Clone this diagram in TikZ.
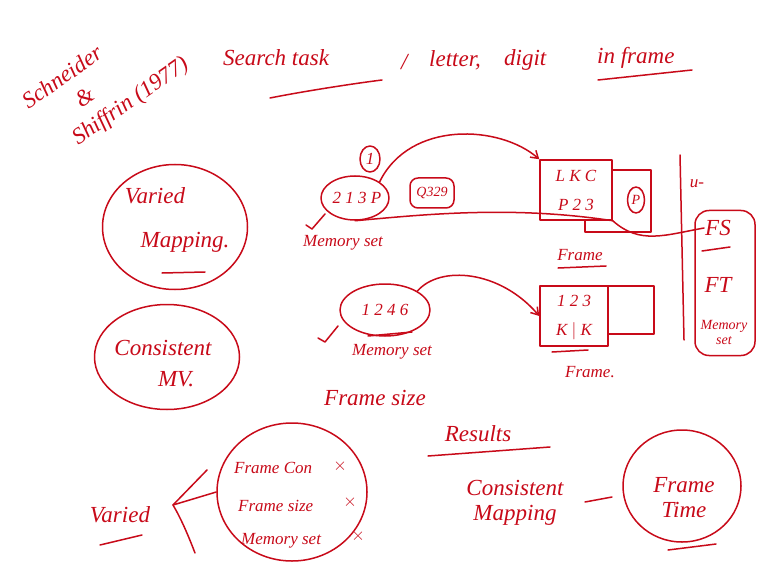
\documentclass[tikz,border=0pt]{standalone}
\usepackage{fontspec}
\setmainfont{Liberation Serif}
\usetikzlibrary{arrows.meta,shapes.geometric}
\definecolor{ink}{RGB}{200,10,25}
\tikzset{
  pen/.style={draw=ink,line width=1.5pt,line cap=round,line join=round},
  hand/.style={text=ink,font=\itshape\fontsize{23}{25}\selectfont,inner sep=1pt},
  small/.style={text=ink,font=\itshape\fontsize{17}{19}\selectfont,inner sep=1pt},
  tiny/.style={text=ink,font=\itshape\fontsize{14}{15}\selectfont,inner sep=1pt},
  loop/.style={pen,ellipse,inner sep=0pt},
  tip/.style={-{Straight Barb[length=7pt,width=9pt]}}
}
\begin{document}
\begin{tikzpicture}[x=1pt,y=-1pt]
\useasboundingbox[fill=white] (0,0) rectangle (767,577);

% authors, written on a slant
\node[hand,rotate=35,align=left,font=\itshape\fontsize{23}{29}\selectfont] (auth) at (106,84)
  {Schneider\\\hspace*{44pt}\&\\\hspace*{20pt}Shiffrin (1977)};

% title line
\node[hand,anchor=west] (title) at (222,58) {Search task};
\node[hand,anchor=west] (slash) at (400,62) {/};
\node[hand,anchor=west] (ltr) at (428,60) {letter,};
\node[hand,anchor=west] (dig) at (503,60) {digit};
\node[hand,anchor=west] (inf) at (596,58) {in frame};
\coordinate (u1a) at (270,98); \coordinate (u1b) at (382,80);
\draw[pen] (u1a) .. controls (300,92) and (350,84) .. (u1b);
\coordinate (u2a) at (598,80); \coordinate (u2b) at (692,70);
\draw[pen] (u2a) -- (u2b);

% varied / consistent mapping
\node[loop,minimum width=145pt,minimum height=125pt] (vm) at (175,227) {};
\node[hand] (vmt1) at (155,196) {Varied};
\node[hand] (vmt2) at (185,242) {Mapping.};
\coordinate (vmu1) at (162,273); \coordinate (vmu2) at (205,272);
\draw[pen] (vmu1) -- (vmu2);

\node[loop,minimum width=145pt,minimum height=105pt] (cm) at (167,357) {};
\node[hand] (cmt1) at (163,348) {Consistent};
\node[hand] (cmt2) at (176,379) {MV.};

% first memory set and its frame
\node[loop,minimum width=68pt,minimum height=44pt] (ms1) at (355,198) {};
\node[small] (ms1t) at (357,198) {2 1 3 P};
\node[loop,minimum width=20pt,minimum height=26pt] (one) at (370,159) {};
\node[small] (onet) at (370,159) {1};
\node[pen,rounded corners=8pt,minimum width=44pt,minimum height=30pt] (q) at (432,193) {};
\node[tiny] (qt) at (432,193) {Q329};
\node[small] (ms1l) at (343,243) {Memory set};
\coordinate (sq1) at (306,225);
\draw[pen] (sq1) -- (312,229) -- (325,214);

\node[pen,minimum width=66pt,minimum height=62pt] (fr1b) at (618,201) {};
\node[pen,fill=white,minimum width=72pt,minimum height=60pt] (fr1) at (576,190) {};
\node[small] (fr1r1) at (576,176) {L K C};
\node[small] (fr1r2) at (576,205) {P 2 3};
\node[loop,minimum width=17pt,minimum height=26pt] (pc) at (636,200) {};
\node[tiny] (pct) at (636,200) {P};
\node[small] (fr1l) at (580,255) {Frame};
\coordinate (fu1) at (558,268); \coordinate (fu2) at (606,266);
\draw[pen] (fu1) -- (fu2);

\draw[pen,tip] (ms1.north east) .. controls (410,120) and (500,125) .. (fr1.north west);
\draw[pen] (ms1.south) .. controls (420,215) and (510,205) .. (fr1.south east);

% right column
\coordinate (vt) at (680,155); \coordinate (vb) at (684,340);
\draw[pen] (vt) -- (vb);
\node[small] (ut) at (697,184) {u-};
\node[pen,rounded corners=14pt,minimum width=60pt,minimum height=145pt] (col) at (725,283) {};
\node[hand] (fs) at (718,228) {FS};
\node[hand] (ft) at (718,285) {FT};
\node[tiny,align=center] (msr) at (724,332) {Memory\\set};
\coordinate (fsu1) at (702,251); \coordinate (fsu2) at (730,247);
\draw[pen] (fsu1) -- (fsu2);
\draw[pen] (fr1.south east) .. controls (640,245) and (665,235) .. (fs.west);

% second memory set and its frame
\node[loop,minimum width=90pt,minimum height=52pt] (ms2) at (385,310) {};
\node[small] (ms2t) at (385,310) {1 2 4 6};
\node[small] (ms2l) at (392,352) {Memory set};
\coordinate (sq2) at (318,338);
\draw[pen] (sq2) -- (325,342) -- (338,326);
\coordinate (ms2u1) at (368,336); \coordinate (ms2u2) at (412,332);
\draw[pen] (ms2u1) -- (ms2u2);

\node[pen,minimum width=70pt,minimum height=48pt] (fr2b) at (619,310) {};
\node[pen,fill=white,minimum width=68pt,minimum height=60pt] (fr2) at (574,316) {};
\node[small] (fr2r1) at (574,301) {1 2 3};
\node[small] (fr2r2) at (574,331) {K $|$ K};
\node[small] (fr2l) at (590,372) {Frame.};
\coordinate (fu3) at (552,352); \coordinate (fu4) at (588,350);
\draw[pen] (fu3) -- (fu4);
\draw[pen,tip] (ms2.north east) .. controls (440,265) and (500,270) .. (fr2.west);

\node[hand] (fsz) at (375,398) {Frame size};

% results
\node[hand] (res) at (478,434) {Results};
\coordinate (ru1) at (428,456); \coordinate (ru2) at (550,447);
\draw[pen] (ru1) -- (ru2);
\node[hand,align=center] (cons) at (515,503) {Consistent\\Mapping};
\node[loop,minimum width=118pt,minimum height=112pt] (ftm) at (682,486) {};
\node[hand,align=center] (ftt) at (684,498) {Frame\\Time};
\coordinate (ftu1) at (668,550); \coordinate (ftu2) at (716,544);
\draw[pen] (ftu1) -- (ftu2);
\coordinate (d1) at (585,502); \coordinate (d2) at (612,497);
\draw[pen] (d1) -- (d2);

% varied factors
\node[loop,minimum width=150pt,minimum height=138pt] (fac) at (292,492) {};
\node[small,anchor=west] (f1) at (233,468) {Frame Con};
\node[small,anchor=west] (f2) at (237,506) {Frame size};
\node[small,anchor=west] (f3) at (240,541) {Memory set};
\node[small] (x1) at (340,466) {$\times$};
\node[small] (x2) at (350,502) {$\times$};
\node[small] (x3) at (358,536) {$\times$};
\node[hand] (var) at (120,515) {Varied};
\coordinate (vu1) at (100,545); \coordinate (vu2) at (142,535);
\draw[pen] (vu1) -- (vu2);
\coordinate (bt) at (207,470); \coordinate (bm) at (173,505); \coordinate (bb) at (195,553);
\draw[pen] (bt) -- (bm) .. controls (182,520) and (190,540) .. (bb);
\draw[pen] (bm) -- (fac.west);
\end{tikzpicture}
\end{document}
